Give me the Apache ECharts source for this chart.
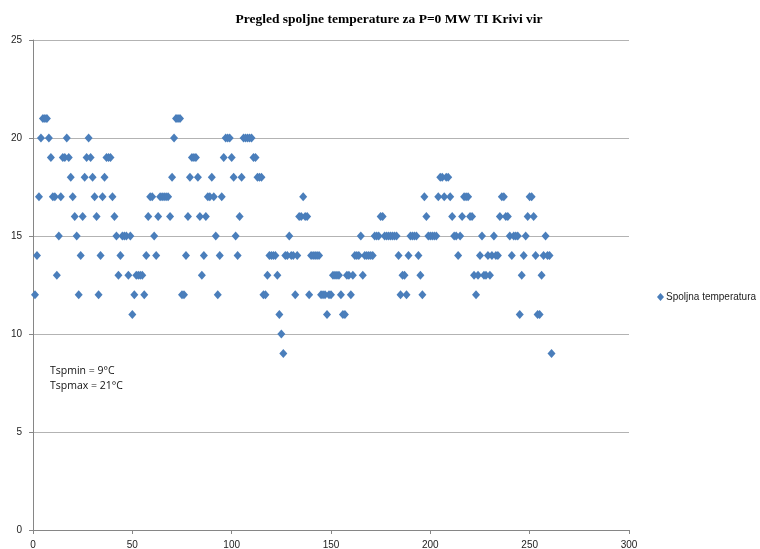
<!DOCTYPE html>
<html>
<head>
<meta charset="utf-8">
<script src="https://cdn.jsdelivr.net/npm/echarts@6/dist/echarts.min.js"></script>
<style>html,body{margin:0;padding:0;background:#fff}#c{width:760px;height:549px}</style>
</head>
<body>
<div id="c"></div>
<script>
var titleText = 'Pregled spoljne temperature za P=0 MW TI Krivi vir';
var seriesName = 'Spoljna temperatura';
var noteLines = ['Tspmin = 9°C', 'Tspmax = 21°C'];
var xTicks = [0, 50, 100, 150, 200, 250, 300];
var yTicks = [0, 5, 10, 15, 20, 25];
var dayIndex = [];
for (var i = 1; i <= 261; i++) dayIndex.push(i);
var temperature = [
12,14,17,20,21,21,21,20,19,17, 17,13,15,17,19,19,20,19,18,17,
16,15,12,14,16,18,19,20,19,18, 17,16,12,14,17,18,19,19,19,17,
16,15,13,14,15,15,15,13,15,11, 12,13,13,13,13,12,14,16,17,17,
15,14,16,17,17,17,17,17,16,18, 20,21,21,21,12,12,14,16,18,19,
19,19,18,16,13,14,16,17,17,18, 17,15,12,14,17,19,20,20,20,19,
18,15,14,16,18,20,20,20,20,20, 19,19,18,18,18,12,12,13,14,14,
14,14,13,11,10,9,14,14,15,14, 14,12,14,16,16,17,16,16,12,14,
14,14,14,14,12,12,12,11,12,12, 13,13,13,13,12,11,11,13,13,12,
13,14,14,14,15,13,14,14,14,14, 14,15,15,15,16,16,15,15,15,15,
15,15,15,14,12,13,13,12,14,15, 15,15,15,14,13,12,17,16,15,15,
15,15,15,17,18,18,17,18,18,17, 16,15,15,14,15,16,17,17,17,16,
16,13,12,13,14,15,13,13,14,13, 14,15,14,14,16,17,17,16,16,15,
14,15,15,15,11,13,14,15,16,17, 17,16,14,11,11,13,14,15,14,14,
9
];
var pts = dayIndex.map(function(d, k){ return [d, temperature[k]]; });

var chart = echarts.init(document.getElementById('c'), null, {renderer: 'canvas'});
chart.setOption({
  animation: false,
  backgroundColor: '#ffffff',
  title: {
    text: titleText, left: 384, top: 8, textAlign: 'center',
    textStyle: {fontFamily: 'Liberation Serif', fontWeight: 'bold', fontSize: 13.5, color: '#000'}
  },
  legend: {
    data: [seriesName], left: 652, top: 287, orient: 'vertical',
    icon: 'diamond', itemWidth: 7, itemHeight: 8, itemGap: 4,
    textStyle: {fontFamily: 'Liberation Sans', fontSize: 10, color: '#222', padding: [0,0,0,-3]}
  },
  grid: {left: 33, top: 40, right: 131, bottom: 19, containLabel: false, outerBoundsMode: 'none'},
  xAxis: {
    type: 'value', min: 0, max: 300, interval: 50,
    axisLine: {show: true, lineStyle: {color: '#868686', width: 1}},
    axisTick: {show: true, length: 4, lineStyle: {color: '#868686'}},
    axisLabel: {fontFamily: 'Liberation Sans', fontSize: 10, color: '#222', margin: 10},
    splitLine: {show: false}
  },
  yAxis: {
    type: 'value', min: 0, max: 25, interval: 5,
    axisLine: {show: true, lineStyle: {color: '#868686', width: 1}},
    axisTick: {show: true, length: 4, lineStyle: {color: '#868686'}},
    axisLabel: {fontFamily: 'Liberation Sans', fontSize: 10, color: '#222', margin: 11},
    splitLine: {show: true, lineStyle: {color: '#b3b3b3', width: 1}}
  },
  graphic: [
    {type: 'text', left: 50, top: 364, style: {text: noteLines.join('\n'), fontFamily: 'Open Sans', fontSize: 10.5, lineHeight: 15, fill: '#111'}}
  ],
  series: [{
    name: seriesName, type: 'scatter', data: pts,
    symbol: 'diamond', symbolSize: [8, 9],
    itemStyle: {color: '#4a7ebb', opacity: 1}
  }]
});
</script>
</body>
</html>
